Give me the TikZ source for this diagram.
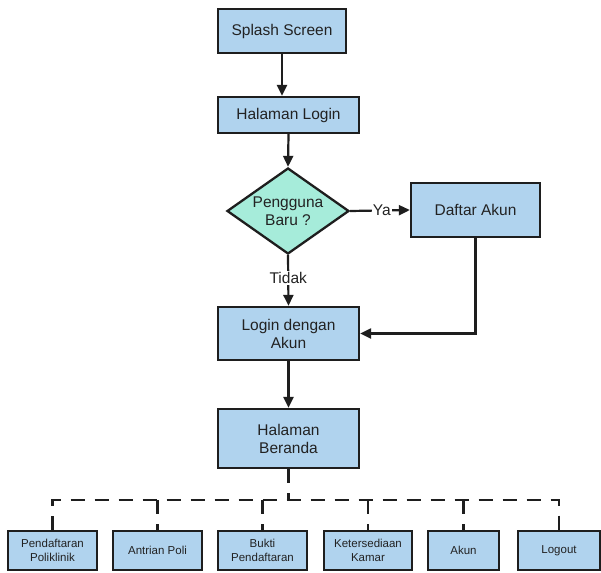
\documentclass[tikz,border=0pt]{standalone}
\usepackage{fontspec}
\setmainfont{Liberation Sans}
\usetikzlibrary{shapes.geometric,arrows.meta}
\definecolor{boxblue}{RGB}{176,211,238}
\definecolor{diamondgreen}{RGB}{166,236,218}
\definecolor{edge}{RGB}{30,30,30}
\definecolor{txt}{RGB}{34,34,34}
\tikzset{
  mainbox/.style={draw=edge, line width=2.3pt, fill=boxblue, inner sep=0pt,
    align=center, text=txt, font=\fontsize{15.5}{18}\selectfont},
  smallbox/.style={draw=edge, line width=2.3pt, fill=boxblue, inner sep=0pt,
    align=center, text=txt, minimum height=39pt, font=\fontsize{11.5}{13.5}\selectfont},
  decision/.style={draw=edge, line width=2.3pt, fill=diamondgreen, shape=diamond,
    inner sep=0pt, aspect=1.42, minimum width=122pt, minimum height=86pt,
    align=center, text=txt, font=\fontsize{15.5}{18}\selectfont},
  arr/.style={draw=edge, line width=2.2pt, -{Triangle[length=11pt,width=10pt]}},
  bus/.style={draw=edge, line width=2.2pt, dash pattern=on 14pt off 10pt},
  lbl/.style={fill=white, inner sep=1pt, text=txt, font=\fontsize{15.5}{18}\selectfont}
}
\begin{document}
\begin{tikzpicture}[x=1pt,y=-1pt]
\useasboundingbox[fill=white] (0,0) rectangle (601,572);

\node[mainbox, minimum width=128pt, minimum height=44pt] (splash) at (282,31) {Splash Screen};
\node[mainbox, minimum width=141pt, minimum height=36pt] (login) at (288.5,115) {Halaman Login};
\node[decision] (baru) at (288,211) {Pengguna\\Baru ?};
\node[mainbox, minimum width=129pt, minimum height=54pt] (daftar) at (475.5,210) {Daftar Akun};
\node[mainbox, minimum width=141pt, minimum height=53pt] (logindg) at (288.5,333.5) {Login dengan\\Akun};
\node[mainbox, minimum width=141pt, minimum height=59pt] (beranda) at (288.5,438.5) {Halaman\\Beranda};

\node[smallbox, minimum width=89pt] (p1) at (52.5,550.5) {Pendaftaran\\Poliklinik};
\node[smallbox, minimum width=89pt] (p2) at (157.5,550.5) {Antrian Poli};
\node[smallbox, minimum width=89pt] (p3) at (262.5,550.5) {Bukti\\Pendaftaran};
\node[smallbox, minimum width=88pt] (p4) at (368,550.5) {Ketersediaan\\Kamar};
\node[smallbox, minimum width=71pt] (p5) at (463.5,550.5) {Akun};
\node[smallbox, minimum width=82pt] (p6) at (559,550.5) {Logout};

\coordinate (busy) at (0,500);

% main flow
\draw[arr] (splash.south) -- (splash.south |- login.north);
\draw[arr] (login.south) -- (baru.north);
\draw[arr] (baru.east) -- (daftar.west) node[lbl, pos=0.53] (ya) {Ya};
\draw[arr] (baru.south) -- (logindg.north) node[lbl, pos=0.45] (tidak) {Tidak};
\draw[arr] (daftar.south) |- (logindg.east);
\draw[arr] (logindg.south) -- (beranda.north);

% dashed distribution bus
\draw[bus] (beranda.south) -- (beranda.south |- busy);
\draw[bus] (p1.north) -- (p1.north |- busy) -- (p6.north |- busy) -- (p6.north);
\draw[bus] (p2.north |- busy) -- (p2.north);
\draw[bus] (p3.north |- busy) -- (p3.north);
\draw[bus] (p4.north |- busy) -- (p4.north);
\draw[bus] (p5.north |- busy) -- (p5.north);
\end{tikzpicture}
\end{document}
